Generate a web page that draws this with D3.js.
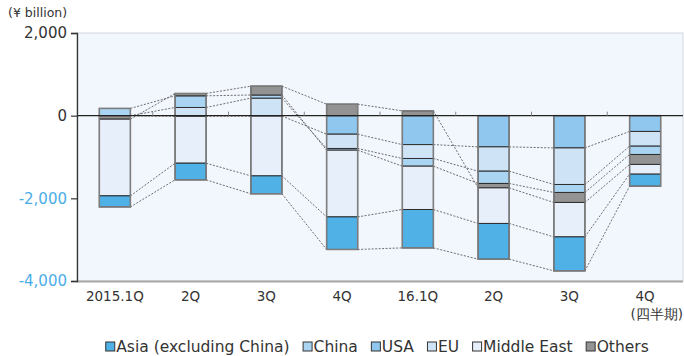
<!DOCTYPE html>
<html>
<head>
<meta charset="utf-8">
<script src="https://cdn.jsdelivr.net/npm/d3@7"></script>
<style>
  html, body { margin: 0; padding: 0; background: #ffffff; }
  svg { display: block; font-family: "DejaVu Sans", Verdana, sans-serif; }
</style>
</head>
<body>
<svg id="chart" width="684" height="356"></svg>
<script>
// Quarterly change by region, ¥ billion
const quarters = ["2015.1Q", "2Q", "3Q", "4Q", "16.1Q", "2Q", "3Q", "4Q"];
const yTicks = [-4000, -2000, 0, 2000];

// stacking order: first key sits next to the zero line
const usa        = [0, -15, -10, -448, -700, -755, -780, -382];
const eu         = [0, 198, 425, -346, -336, -588, -885, -356];
const china      = [175, 282, 75, -41, -186, -297, -193, -201];
const others     = [-85, 57, 214, 278, 116, -107, -242, -241];
const middleEast = [-1855, -1135, -1447, -1614, -1048, -861, -833, -235];
const asia       = [-267, -403, -433, -788, -929, -864, -822, -291];

const seriesKeys = ["usa", "eu", "china", "others", "middleEast", "asia"];
const seriesValues = { usa, eu, china, others, middleEast, asia };
const seriesNames = {
  asia: "Asia (excluding China)", china: "China", usa: "USA",
  eu: "EU", middleEast: "Middle East", others: "Others"
};
const seriesColors = {
  asia: "#4fb1e6", china: "#a9d4f2", usa: "#8fc7ee",
  eu: "#cee4f6", middleEast: "#e7effa", others: "#939393"
};
const legendOrder = ["asia", "china", "usa", "eu", "middleEast", "others"];

const rows = quarters.map((q, i) => {
  const r = { idx: i };
  seriesKeys.forEach(k => { r[k] = seriesValues[k][i]; });
  return r;
});

const svg = d3.select("#chart");
const plot = { left: 77, right: 683, top: 33, bottom: 281 };

const x = d3.scaleBand()
  .domain(d3.range(quarters.length))
  .range([plot.left, plot.right])
  .paddingInner(0.59)
  .paddingOuter(0.295);

const y = d3.scaleLinear()
  .domain([-4000, 2000])
  .range([plot.bottom, plot.top]);

const stack = d3.stack()
  .keys(seriesKeys)
  .order(d3.stackOrderNone)
  .offset(d3.stackOffsetDiverging);
const stacked = stack(rows);

// plot background
svg.append("rect")
  .attr("x", plot.left).attr("y", plot.top)
  .attr("width", plot.right - plot.left).attr("height", plot.bottom - plot.top)
  .attr("fill", "#f2f6fd")
  .attr("stroke", "#d4d8de").attr("stroke-width", 1);
svg.append("line")
  .attr("x1", plot.left).attr("x2", plot.right)
  .attr("y1", plot.bottom + 0.5).attr("y2", plot.bottom + 0.5)
  .attr("stroke", "#a8a8a8").attr("stroke-width", 2);

// end of a series' segment in one column (top if positive, bottom if negative)
const segEnd = (key, i, d) => (d[0] === d[1] ? d[1] : (seriesValues[key][i] >= 0 ? d[1] : d[0]));

// dotted series lines between adjacent columns
const connectors = svg.append("g");
stacked.forEach(s => {
  for (let i = 0; i < s.length - 1; i++) {
    connectors.append("line")
      .attr("x1", x(i) + x.bandwidth())
      .attr("y1", y(segEnd(s.key, i, s[i])))
      .attr("x2", x(i + 1))
      .attr("y2", y(segEnd(s.key, i + 1, s[i + 1])))
      .attr("stroke", "#6e6e6e")
      .attr("stroke-width", 1)
      .attr("stroke-dasharray", "2,1.5");
  }
});

// stacked segments
const bars = svg.append("g");
stacked.forEach(s => {
  bars.selectAll(null)
    .data(s.filter(d => d[0] !== d[1]))
    .join("rect")
    .attr("x", d => x(d.data.idx))
    .attr("y", d => y(d[1]))
    .attr("width", x.bandwidth())
    .attr("height", d => y(d[0]) - y(d[1]))
    .attr("fill", seriesColors[s.key])
    .attr("stroke", "#2e2e2e")
    .attr("stroke-width", 1);
});

// outline of each column
rows.forEach(r => {
  const col = stacked.map(s => s[r.idx]);
  const top = d3.max(col, d => d[1]);
  const bot = d3.min(col, d => d[0]);
  svg.append("rect")
    .attr("x", x(r.idx)).attr("y", y(top))
    .attr("width", x.bandwidth()).attr("height", y(bot) - y(top))
    .attr("fill", "none")
    .attr("stroke", "#7d7d7d").attr("stroke-width", 1.5);
});

// zero line with category ticks
svg.append("line")
  .attr("x1", plot.left).attr("x2", plot.right)
  .attr("y1", y(0)).attr("y2", y(0))
  .attr("stroke", "#222").attr("stroke-width", 1.3);
d3.range(1, quarters.length).forEach(i => {
  const xb = x(i) - x.step() * x.paddingInner() / 2;
  svg.append("line")
    .attr("x1", xb).attr("x2", xb)
    .attr("y1", y(0) - 4).attr("y2", y(0))
    .attr("stroke", "#888").attr("stroke-width", 1);
});

// y axis (plain hyphen for negatives)
const fmt = d3.format(",");
const yAxis = svg.append("g")
  .attr("transform", `translate(${plot.left},0)`)
  .call(d3.axisLeft(y).tickValues(yTicks).tickSize(6).tickPadding(4)
    .tickFormat(d => fmt(d).replace("\u2212", "-")));
yAxis.select(".domain").attr("stroke", "#333").attr("stroke-width", 1.3);
yAxis.selectAll(".tick line").attr("stroke", "#333").attr("stroke-width", 1.2);
yAxis.selectAll(".tick text")
  .attr("font-size", 15)
  .attr("font-family", "DejaVu Sans, Verdana, sans-serif")
  .attr("fill", d => (d < 0 ? "#4aade6" : "#333"));

svg.append("text")
  .attr("x", 8).attr("y", 17)
  .attr("font-size", 12.5).attr("fill", "#333")
  .text("(¥ billion)");

// x labels
svg.append("g").selectAll("text")
  .data(quarters)
  .join("text")
  .attr("x", (d, i) => x(i) + x.bandwidth() / 2)
  .attr("y", 301)
  .attr("text-anchor", "middle")
  .attr("font-size", 13.5).attr("fill", "#333")
  .text(d => d);
svg.append("text")
  .attr("x", x(quarters.length - 1) + x.bandwidth() / 2 + 38)
  .attr("y", 319)
  .attr("text-anchor", "end")
  .attr("font-size", 13.5).attr("fill", "#333")
  .text("(四半期)");

// legend
const legend = svg.append("g");
const legendGap = 13;
let cursor = 0;
legendOrder.forEach(k => {
  const item = legend.append("g").attr("transform", `translate(${cursor},0)`);
  item.append("rect")
    .attr("x", 0.5).attr("y", -10).attr("width", 9).attr("height", 9)
    .attr("fill", seriesColors[k]).attr("stroke", "#333").attr("stroke-width", 1);
  const t = item.append("text")
    .attr("x", 11).attr("y", 0)
    .attr("font-size", 15.5).attr("fill", "#333")
    .text(seriesNames[k]);
  cursor += 11 + t.node().getComputedTextLength() + legendGap;
});
const legendWidth = cursor - legendGap;
legend.attr("transform", `translate(${377 - legendWidth / 2},352)`);
</script>
</body>
</html>
